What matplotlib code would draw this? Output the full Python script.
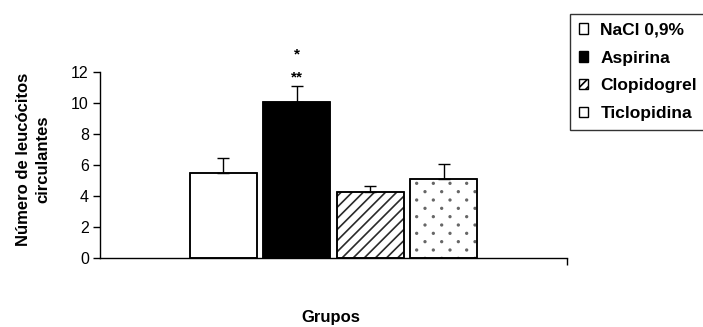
import numpy as np
import matplotlib
matplotlib.use("Agg")
import matplotlib.pyplot as plt
import matplotlib.hatch as mhatch
from matplotlib.path import Path
from matplotlib.patches import Patch

plt.rcParams['font.family'] = ['Liberation Sans', 'DejaVu Sans']
plt.rcParams['hatch.linewidth'] = 1.2


class StaggeredDots(mhatch.HatchPatternBase):
    """'.' hatch: staggered dots, twice as many rows as columns per tile."""
    radius = 0.008

    def __init__(self, hatch, density):
        n = hatch.count('.')
        self.cols = n * density
        self.rows = 2 * n * density
        circ = Path.unit_circle()
        self.shape_vertices = circ.vertices
        self.shape_codes = circ.codes
        if n == 0:
            self.num_vertices = 0
        else:
            n_even = self.rows // 2 + 1
            n_odd = self.rows // 2
            shapes = n_even * (self.cols + 1) + n_odd * self.cols
            self.num_vertices = shapes * len(self.shape_vertices)

    def set_vertices_and_codes(self, vertices, codes):
        dx = 1.0 / self.cols
        sv = self.shape_vertices * self.radius
        vparts, cparts = [], []
        for row in range(self.rows + 1):
            if row % 2 == 0:
                xs = np.linspace(0, 1, self.cols + 1)
            else:
                xs = np.linspace(dx / 2, 1 - dx / 2, self.cols)
            y = row / self.rows
            for x0 in xs:
                vparts.append(sv + [x0, y])
                cparts.append(self.shape_codes)
        np.concatenate(vparts, out=vertices)
        np.concatenate(cparts, out=codes)


mhatch._hatch_types = [StaggeredDots if t is mhatch.SmallFilledCircles else t
                       for t in mhatch._hatch_types]

groups = ["NaCl 0,9%", "Aspirina", "Clopidogrel", "Ticlopidina"]
means = [5.44, 10.03, 4.25, 5.05]
errors = [0.97, 1.07, 0.39, 0.99]
significance = {1: "**"}
significance_top = {1: "*"}
y_ticks = [0, 2, 4, 6, 8, 10, 12]

faces = ["white", "black", "white", "white"]
hatches = [None, None, "///", "."]
hatch_cols = ["black", "black", "#2a2a2a", "#666666"]

fig = plt.figure(figsize=(7.03, 3.27), dpi=100)
ax = fig.add_axes([0.1422, 0.2125, 0.8065 - 0.1422, 0.7807 - 0.2125])

x = list(range(len(groups)))
bars = ax.bar(x, means, width=0.91, color=faces, edgecolor="black",
              linewidth=1.1, zorder=2)
for b, h, hc in zip(bars, hatches, hatch_cols):
    if h:
        b.set_hatch(h)
        b._hatch_color = matplotlib.colors.to_rgba(hc)
# black outlines on top of the hatching
ax.bar(x, means, width=0.91, facecolor="none", edgecolor="black",
       linewidth=1.1, zorder=3)

ax.errorbar(x, means, yerr=[[0] * len(errors), errors], fmt="none",
            ecolor="black", elinewidth=1.0, capsize=4.5, capthick=1.0,
            zorder=4)

for i, s in significance.items():
    ax.annotate(s, (x[i], means[i] + errors[i]), xytext=(0, 1),
                textcoords="offset points", ha="center", va="bottom",
                fontsize=11, fontweight="bold", annotation_clip=False)
for i, s in significance_top.items():
    ax.annotate(s, (x[i], means[i] + errors[i]), xytext=(0, 17.5),
                textcoords="offset points", ha="center", va="bottom",
                fontsize=11, fontweight="bold", annotation_clip=False)

ax.set_xlim(-1.68, 4.68)
ax.set_ylim(0, 12)
ax.set_yticks(y_ticks)
ax.set_yticklabels([str(t) for t in y_ticks], fontsize=11.5)
ax.set_xticks([4.68])
ax.set_xticklabels([""])
ax.tick_params(axis="y", direction="out", length=5, width=1, pad=3)
ax.tick_params(axis="x", direction="out", length=5, width=1)
for side in ("top", "right"):
    ax.spines[side].set_visible(False)
for side in ("left", "bottom"):
    ax.spines[side].set_linewidth(1)

fig.text(0.047, 0.514, "Número de leucócitos\ncirculantes", rotation=90,
         ha="center", va="center", fontsize=12, fontweight="bold",
         linespacing=1.4)
fig.text(0.47, 0.03, "Grupos", ha="center", va="center",
         fontsize=12, fontweight="bold")

handles = [Patch(facecolor=f, edgecolor="black", linewidth=1) for f in faces]
handles[2] = Patch(facecolor="white", edgecolor="black", hatch="////",
                   linewidth=1)
leg = fig.legend(handles, groups, loc="upper left",
                 bbox_to_anchor=(570 / 703, 1 - 14 / 327),
                 frameon=True, fancybox=False, shadow=False,
                 prop={"weight": "bold", "size": 12.5},
                 handlelength=0.55, handleheight=0.55, handletextpad=0.7,
                 labelspacing=0.74, borderpad=0.5, borderaxespad=0)
leg.get_frame().set_edgecolor("black")
leg.get_frame().set_linewidth(1)

fig.savefig("out.png", dpi=100)
